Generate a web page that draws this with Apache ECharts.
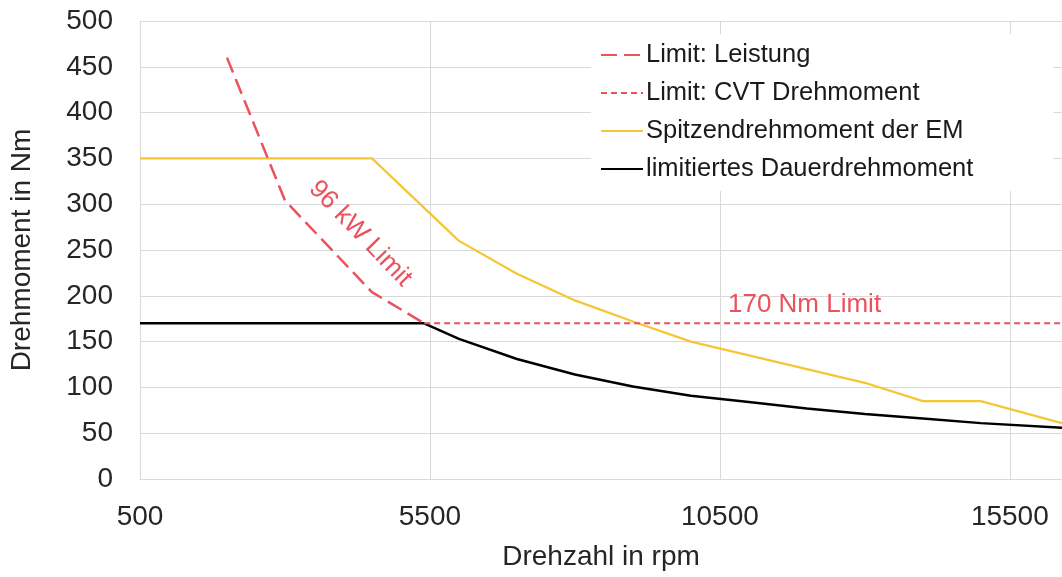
<!DOCTYPE html>
<html>
<head>
<meta charset="utf-8">
<script src="https://cdn.jsdelivr.net/npm/echarts@6/dist/echarts.min.js"></script>
<style>
html,body{margin:0;padding:0;background:#fff;}
#main{width:1062px;height:577px;}
</style>
</head>
<body>
<div id="main"></div>
<script>
// ---- data ----
const seriesNames = ['Limit: Leistung', 'Limit: CVT Drehmoment', 'Spitzendrehmoment der EM', 'limitiertes Dauerdrehmoment'];
const rpmLeistung = [2000, 3000, 4500, 5400];
const tqLeistung  = [460, 304, 204, 170];
const rpmCVT = [5400, 16400];
const tqCVT  = [170, 170];
const rpmSpitze = [500, 4500, 6000, 7000, 8000, 9000, 10000, 13000, 14000, 15000, 16400];
const tqSpitze  = [350, 350, 260, 224, 195, 172, 150, 105, 85, 85, 61];
const rpmDauer = [500, 5400, 6000, 7000, 8000, 9000, 10000, 11000, 12000, 13000, 14000, 15000, 16400];
const tqDauer  = [170, 170, 153, 131, 114, 101, 91, 84, 77, 71, 66, 61, 56];
const xAxisName = 'Drehzahl in rpm';
const yAxisName = 'Drehmoment in Nm';
const annotations = [
  { text: '96 kW Limit', x: 4300, y: 268, angle: -46 },
  { text: '170 Nm Limit', x: 11960, y: 190, angle: 0 }
];

const FONT = '"Liberation Sans", Arial, sans-serif';
const RED = '#ea525c';
const YEL = '#f6c533';
const pairs = (xs, ys) => xs.map((x, i) => [x, ys[i]]);

const chart = echarts.init(document.getElementById('main'), null, { renderer: 'canvas' });
const option = {
  animation: false,
  backgroundColor: '#fff',
  textStyle: { fontFamily: FONT },
  grid: { left: 140, right: 0, top: 21, bottom: 98, containLabel: false },
  xAxis: {
    type: 'value', min: 500, max: 16400, interval: 5000,
    name: xAxisName, nameLocation: 'middle', nameGap: 64,
    nameTextStyle: { fontSize: 28, color: '#262626', fontFamily: FONT },
    axisLine: { show: true, lineStyle: { color: '#d9d9d9', width: 1 } },
    axisTick: { show: false },
    axisLabel: { fontSize: 28, color: '#262626', margin: 24, fontFamily: FONT, showMaxLabel: false,
                 formatter: v => String(v) },
    splitLine: { show: true, showMaxLine: false, lineStyle: { color: '#d9d9d9', width: 1 } }
  },
  yAxis: {
    type: 'value', min: 0, max: 500, interval: 50,
    name: yAxisName, nameLocation: 'middle', nameGap: 104,
    nameTextStyle: { fontSize: 28, color: '#262626', fontFamily: FONT },
    axisLine: { show: false },
    axisTick: { show: false },
    axisLabel: { fontSize: 28, color: '#262626', margin: 27, fontFamily: FONT },
    splitLine: { show: true, lineStyle: { color: '#d9d9d9', width: 1 } }
  },
  legend: {
    orient: 'vertical', left: 591, top: 34,
    backgroundColor: '#fff',
    padding: [8, 80, 9, 9],
    itemWidth: 42, itemHeight: 14, itemGap: 12,
    itemStyle: { opacity: 0 },
    textStyle: { fontSize: 25.5, color: '#1a1a1a', fontFamily: FONT, padding: [0, 0, 0, -2] },
    data: seriesNames
  },
  series: [
    {
      name: seriesNames[0], type: 'line', symbol: 'none', z: 4,
      data: pairs(rpmLeistung, tqLeistung),
      lineStyle: { color: RED, width: 2.5, type: [16, 7] },
      itemStyle: { color: RED }
    },
    {
      name: seriesNames[1], type: 'line', symbol: 'none', z: 4,
      data: pairs(rpmCVT, tqCVT),
      lineStyle: { color: RED, width: 2, type: [6, 4] },
      itemStyle: { color: RED }
    },
    {
      name: seriesNames[2], type: 'line', symbol: 'none', z: 3,
      data: pairs(rpmSpitze, tqSpitze),
      lineStyle: { color: YEL, width: 2.2 },
      itemStyle: { color: YEL }
    },
    {
      name: seriesNames[3], type: 'line', symbol: 'none', z: 3,
      data: pairs(rpmDauer, tqDauer),
      lineStyle: { color: '#000', width: 2.5 },
      itemStyle: { color: '#000' }
    }
  ]
};
chart.setOption(option);

function placeAnnotations() {
  const els = annotations.map(a => {
    const p = chart.convertToPixel({ gridIndex: 0 }, [a.x, a.y]);
    return {
      type: 'text', x: p[0], y: p[1], rotation: a.angle * Math.PI / 180, z: 10,
      style: { text: a.text, fill: RED, fontSize: 26, fontFamily: FONT, align: 'center', verticalAlign: 'middle' }
    };
  });
  chart.setOption({ graphic: els });
}
placeAnnotations();
</script>
</body>
</html>
